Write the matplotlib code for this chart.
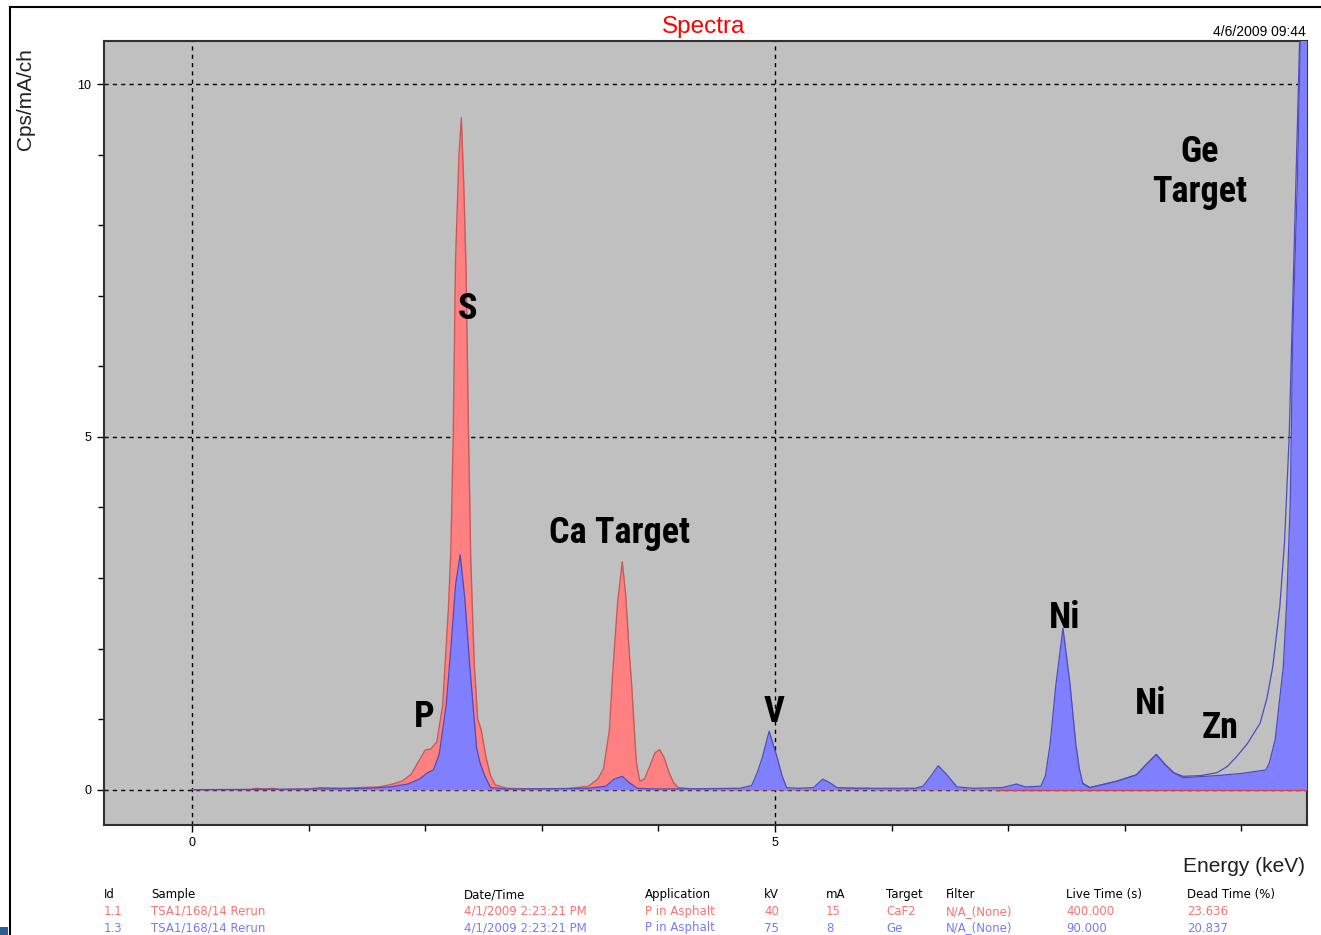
import matplotlib
matplotlib.use("Agg")
import matplotlib.pyplot as plt
from matplotlib import font_manager
from matplotlib.lines import Line2D
from matplotlib.patches import Rectangle
from matplotlib.ticker import MultipleLocator

# Red spectrum (CaF2 target, 40 kV) - energy (keV) / intensity (Cps/mA/ch)
red_e = [0.0, 0.5, 0.55, 0.62, 0.7, 0.75, 1.0, 1.1, 1.3, 1.45,
         1.6, 1.7, 1.8, 1.88, 1.95, 2.0, 2.05, 2.1, 2.15, 2.2,
         2.22, 2.24, 2.26, 2.29, 2.31, 2.33, 2.35, 2.37, 2.39, 2.42,
         2.45, 2.48, 2.52, 2.56, 2.6, 2.7, 2.9, 3.2, 3.4, 3.48,
         3.53, 3.58, 3.61, 3.65, 3.69, 3.72, 3.75, 3.77, 3.81, 3.84,
         3.88, 3.93, 3.97, 4.01, 4.05, 4.09, 4.13, 4.17, 4.3, 4.6,
         5.5, 5.57, 5.8, 5.85, 6.9, 9.56]
red_c = [0.0, 0.0, 0.02, 0.01, 0.02, 0.0, 0.01, 0.03, 0.02, 0.03,
         0.04, 0.07, 0.12, 0.22, 0.42, 0.56, 0.58, 0.68, 1.2, 2.6,
         3.4, 5.0, 7.5, 9.0, 9.52, 8.6, 7.4, 5.2, 3.3, 1.8,
         1.0, 0.85, 0.47, 0.2, 0.07, 0.02, 0.01, 0.01, 0.05, 0.15,
         0.3, 0.85, 1.7, 2.65, 3.23, 2.75, 1.95, 1.5, 0.4, 0.12,
         0.15, 0.35, 0.52, 0.57, 0.45, 0.25, 0.1, 0.03, 0.01, 0.0,
         0.0, 0.02, 0.02, 0.0, 0.0, 0.0]

# Blue spectrum (Ge target, 75 kV), filled part
blue_e = [0.0, 1.0, 1.5, 1.7, 1.85, 1.95, 2.02, 2.07, 2.12, 2.18,
          2.22, 2.26, 2.30, 2.34, 2.38, 2.41, 2.44, 2.47, 2.51, 2.56,
          2.7, 3.4, 3.55, 3.62, 3.69, 3.75, 3.82, 4.0, 4.7, 4.8,
          4.85, 4.89, 4.95, 5.02, 5.06, 5.10, 5.2, 5.33, 5.41, 5.47,
          5.53, 5.7, 6.2, 6.27, 6.34, 6.40, 6.47, 6.56, 6.7, 6.95,
          7.07, 7.15, 7.28, 7.32, 7.36, 7.41, 7.47, 7.53, 7.58, 7.61,
          7.64, 7.70, 7.93, 8.10, 8.18, 8.27, 8.35, 8.42, 8.50, 8.79,
          9.0, 9.21, 9.24, 9.29, 9.36, 9.39, 9.42, 9.44, 9.48, 9.51,
          9.56]
blue_c = [0.0, 0.01, 0.02, 0.04, 0.08, 0.15, 0.24, 0.28, 0.5, 1.2,
          2.0, 2.9, 3.33, 2.7, 1.8, 1.2, 0.6, 0.38, 0.2, 0.03,
          0.01, 0.02, 0.05, 0.15, 0.19, 0.1, 0.02, 0.01, 0.02, 0.06,
          0.25, 0.45, 0.83, 0.45, 0.2, 0.03, 0.02, 0.03, 0.15, 0.1,
          0.03, 0.02, 0.02, 0.05, 0.2, 0.34, 0.22, 0.04, 0.02, 0.03,
          0.08, 0.04, 0.05, 0.2, 0.65, 1.5, 2.29, 1.5, 0.65, 0.3,
          0.09, 0.03, 0.12, 0.21, 0.35, 0.50, 0.35, 0.24, 0.17, 0.2,
          0.23, 0.28, 0.38, 0.71, 1.75, 2.7, 4.1, 6.4, 8.6, 11.0,
          12.0]

# Blue spectrum, thin outline at high energy (Zn / Ge target region)
line_e = [7.64, 7.70, 7.93, 8.10, 8.18, 8.27, 8.35, 8.42, 8.50, 8.65,
          8.79, 8.88, 8.96, 9.05, 9.16, 9.22, 9.27, 9.33, 9.37, 9.41,
          9.45, 9.49, 9.52]
line_c = [0.09, 0.03, 0.12, 0.21, 0.35, 0.50, 0.35, 0.24, 0.19, 0.2,
          0.24, 0.33, 0.47, 0.65, 0.94, 1.3, 1.75, 2.6, 3.5, 5.0,
          7.5, 10.0, 12.0]

# Peak labels
label_text = ["P", "S", "Ca Target", "V", "Ni", "Ni", "Zn", "Ge\nTarget"]
label_e = [1.99, 2.36, 3.67, 4.99, 7.48, 8.22, 8.82, 8.64]
label_y = [1.03, 6.81, 3.64, 1.10, 2.44, 1.22, 0.88, 8.75]

# Info table under the chart
table_header = ["Id", "Sample", "Date/Time", "Application", "kV", "mA",
                "Target", "Filter", "Live Time (s)", "Dead Time (%)"]
row_red = ["1.1", "TSA1/168/14 Rerun", "4/1/2009 2:23:21 PM", "P in Asphalt",
           "40", "15", "CaF2", "N/A_(None)", "400.000", "23.636"]
row_blue = ["1.3", "TSA1/168/14 Rerun", "4/1/2009 2:23:21 PM", "P in Asphalt",
            "75", "8", "Ge", "N/A_(None)", "90.000", "20.837"]
col_x = [104, 151, 464, 645, 764, 826, 886, 946, 1066, 1187]


def has_font(name):
    try:
        font_manager.findfont(font_manager.FontProperties(family=[name]),
                              fallback_to_default=False)
        return True
    except ValueError:
        return False


# narrow bold face for the peak labels, if one is installed
narrow = [f for f in ["Liberation Sans Narrow", "Roboto Condensed",
                      "Open Sans Condensed", "DejaVu Sans Condensed"]
          if has_font(f)]
if narrow:
    bold_font = [narrow[0], "DejaVu Sans"]
    bold_size = 26
else:
    bold_font = ["Liberation Sans", "DejaVu Sans"]
    bold_size = 23

W, H = 1321, 935
fig = plt.figure(figsize=(W / 100, H / 100), dpi=100)
ax = fig.add_axes([104 / W, 1 - 825 / H, (1307 - 104) / W, (825 - 41) / H])
ax.set_facecolor("#c0c0c0")

red_fill = "#ff8080"
red_edge = "#c85a5a"
blue_fill = "#8080ff"
blue_edge = "#4c4cc0"

ax.fill_between(red_e, 0, red_c, color=red_fill, linewidth=0, zorder=2)
ax.plot(red_e, red_c, color=red_edge, linewidth=1.0, zorder=2.5)
ax.fill_between(blue_e, 0, blue_c, color=blue_fill, linewidth=0, zorder=3)
ax.plot(blue_e, blue_c, color=blue_edge, linewidth=0.9, zorder=3.5)
ax.plot(line_e, line_c, color=blue_edge, linewidth=0.9, zorder=3.6)
ax.plot([red_e[-2], red_e[-1]], [red_c[-2], red_c[-1]], color="#d04040",
        linewidth=0.9, zorder=4)

ax.set_xlim(-0.755, 9.563)
ax.set_ylim(-0.5, 10.61)
ax.xaxis.set_major_locator(MultipleLocator(5))
ax.xaxis.set_minor_locator(MultipleLocator(1))
ax.yaxis.set_major_locator(MultipleLocator(5))
ax.yaxis.set_minor_locator(MultipleLocator(1))
ax.grid(True, which="major", color="black", linestyle=(0, (3, 3)),
        linewidth=1.0, zorder=1)
ax.set_axisbelow(True)
ax.tick_params(which="major", direction="out", length=5, width=1,
               labelsize=9, pad=4)
ax.tick_params(which="minor", direction="out", length=4, width=1)
for lab in ax.get_xticklabels() + ax.get_yticklabels():
    lab.set_family(["Liberation Sans", "DejaVu Sans"])
for sp in ax.spines.values():
    sp.set_color("#303030")
    sp.set_linewidth(1.5)

for t, x, y in zip(label_text, label_e, label_y):
    ax.text(x, y, t, ha="center", va="center", fontsize=bold_size,
            fontweight="bold", family=bold_font, linespacing=1.15,
            multialignment="center", zorder=5)

sans = ["Liberation Sans", "DejaVu Sans"]
fig.text(704 / W, 1 - 27 / H, "Spectra", color="#ff0000", fontsize=17.5,
         ha="center", va="center", family=sans)
fig.text(1306 / W, 1 - 32 / H, "4/6/2009 09:44", fontsize=10,
         ha="right", va="center", family=sans)
fig.text(25 / W, 1 - 99 / H, "Cps/mA/ch", rotation=90, fontsize=15,
         ha="center", va="center", color="#202020", family=sans)
fig.text(1305 / W, 1 - 866 / H, "Energy (keV)", fontsize=15,
         ha="right", va="center", color="#202020", family=sans)

for x, hd, rv, bv in zip(col_x, table_header, row_red, row_blue):
    fig.text(x / W, 1 - 898 / H, hd, fontsize=8.5, ha="left",
             va="baseline", color="black")
    fig.text(x / W, 1 - 915 / H, rv, fontsize=8.5, ha="left",
             va="baseline", color="#ff7070")
    fig.text(x / W, 1 - 931.5 / H, bv, fontsize=8.5, ha="left",
             va="baseline", color="#7878ff")

# outer frame and corner mark
fig.add_artist(Line2D([10 / W, 1.0], [1 - 7 / H, 1 - 7 / H],
                      transform=fig.transFigure, color="black", linewidth=1.5))
fig.add_artist(Line2D([10 / W, 10 / W], [0.0, 1 - 7 / H],
                      transform=fig.transFigure, color="black", linewidth=1.5))
fig.add_artist(Rectangle((0, 0), 8 / W, 8 / H, transform=fig.transFigure,
                         color="#2e5f8e", linewidth=0))

fig.savefig("out.png", dpi=100)
